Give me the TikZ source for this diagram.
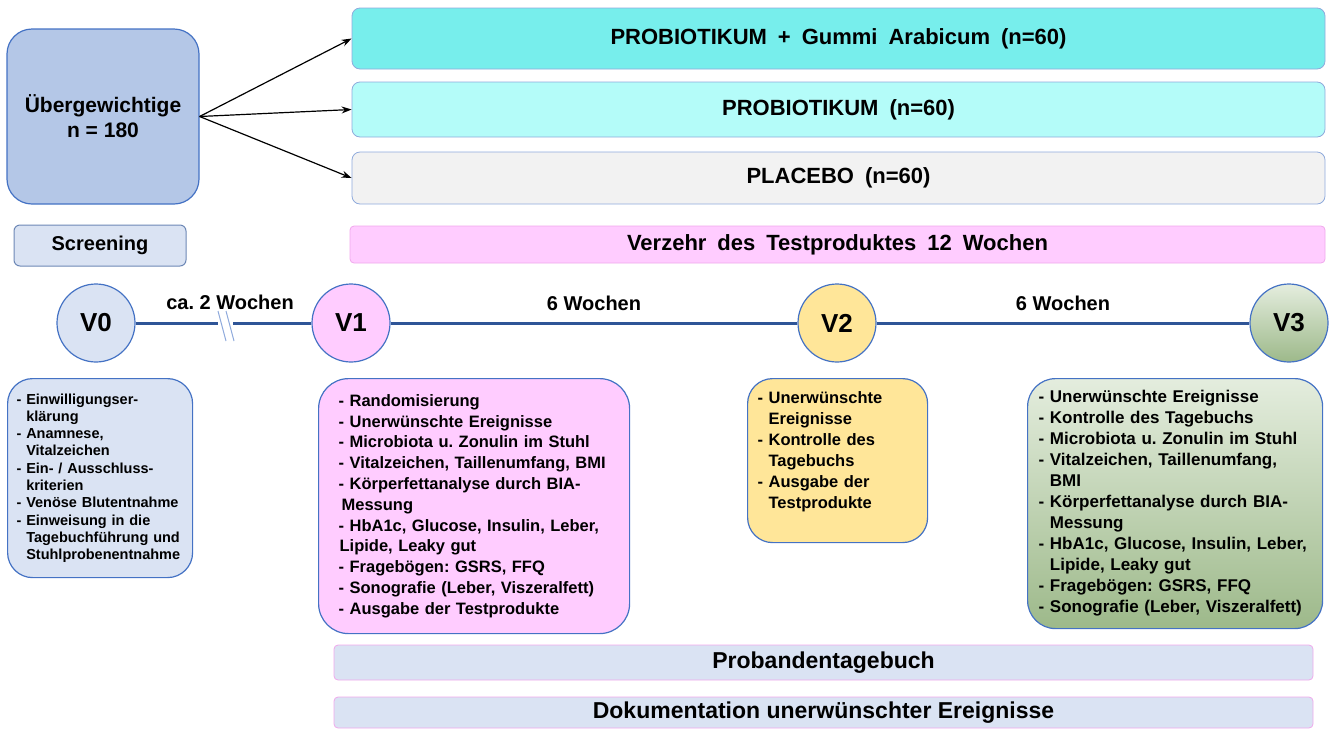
\documentclass[tikz,border=0pt]{standalone}
\usepackage{fontspec}
\setmainfont{Liberation Sans}
\usetikzlibrary{arrows.meta}

\definecolor{boxblue}{HTML}{B4C7E7}
\definecolor{paleblue}{HTML}{DAE3F3}
\definecolor{edgeblue}{HTML}{4472C4}
\definecolor{lineblue}{HTML}{2F5597}
\definecolor{greyblue}{HTML}{8FAADC}
\definecolor{cyanA}{HTML}{77EEEC}
\definecolor{cyanB}{HTML}{B4FCF9}
\definecolor{greyC}{HTML}{F2F2F2}
\definecolor{pinkfill}{HTML}{FFCCFF}
\definecolor{pinkedge}{HTML}{F0A8EC}
\definecolor{yellowfill}{HTML}{FFE699}
\definecolor{greentop}{HTML}{E4EDDE}
\definecolor{greenbot}{HTML}{9DB98A}

\newcommand{\fs}[2]{\fontsize{#1}{#2}\selectfont\bfseries\frenchspacing}
\newcommand{\widesp}{\spaceskip=0.5em plus 0.1em\relax}
\newcommand{\ind}{\phantom{- }}

\begin{document}
\begin{tikzpicture}[x=1pt,y=-1pt,
  grp/.style={draw=greyblue,line width=0.8pt,rounded corners=8pt,minimum width=973pt,font=\fs{22}{26}\widesp},
  visit/.style={circle,draw=edgeblue,line width=1.2pt,minimum size=78pt,inner sep=0pt,font=\fs{26}{30}},
  todo/.style={draw=edgeblue,line width=1.2pt,rounded corners=25pt,anchor=north west,align=left,inner ysep=0pt},
  bar/.style={draw=pinkedge,line width=0.8pt,rounded corners=4pt,minimum width=979pt,fill=paleblue,font=\fs{23}{27}},
  tl/.style={lineblue,line width=3pt},
  wk/.style={midway,yshift=20pt,text=black,font=\fs{20}{24}},
  >={Stealth[length=10pt,width=7pt]}]
\useasboundingbox (0,0) rectangle (1330,729);

% randomisation
\node[draw=edgeblue,fill=boxblue,line width=1.2pt,rounded corners=25pt,minimum width=192pt,minimum height=175pt,align=center,font=\fs{21}{25}] (ueber) at (103,116.5) {Übergewichtige\\n = 180};
\node[draw=lineblue!70,fill=paleblue,line width=1pt,rounded corners=6pt,minimum width=172pt,minimum height=41pt,font=\fs{20}{24}] (screen) at (100,245.5) {Screening};

\node[grp,fill=cyanA,minimum height=61pt] (grpA) at (838.5,38.5) {PROBIOTIKUM + Gummi Arabicum (n=60)};
\node[grp,fill=cyanB,minimum height=55pt] (grpB) at (838.5,109.5) {PROBIOTIKUM (n=60)};
\node[grp,fill=greyC,minimum height=52pt] (grpC) at (838.5,178) {PLACEBO (n=60)};
\node[grp,draw=pinkedge,fill=pinkfill,minimum width=975pt,minimum height=37pt,rounded corners=4pt] (intake) at (837.5,244.5) {Verzehr des Testproduktes 12 Wochen};

\draw[->,line width=1.2pt] (ueber.east) -- (grpA.west);
\draw[->,line width=1.2pt] (ueber.east) -- (grpB.west);
\draw[->,line width=1.2pt] (ueber.east) -- (grpC.west);

% timeline
\node[visit,fill=paleblue] (V0) at (96,323) {V0};
\node[visit,fill=pinkfill] (V1) at (351,323) {V1};
\node[visit,fill=yellowfill] (V2) at (837,323) {V2};
\node[visit,top color=greentop,bottom color=greenbot] (V3) at (1289,323) {V3};

\coordinate (cutL) at (218,323);
\coordinate (cutR) at (233,323);
\draw[tl] (V0) -- (cutL);
\draw[tl] (cutR) -- (V1);
\draw[greyblue,line width=1pt] (218,311) -- (226,341) (226,311) -- (234,341);
\node[font=\fs{20}{24}] (gapwk) at (230,302) {ca. 2 Wochen};
\draw[tl] (V1) -- node[wk] (wkA) {6 Wochen} (V2);
\draw[tl] (V2) -- node[wk] (wkB) {6 Wochen} (V3);

% visit contents
\node[todo,fill=paleblue,minimum height=199pt,inner xsep=9pt,text width=167pt,font=\fs{14.5}{17.3}] (todoV0) at (7,378) {%
- Einwilligungser-\\\ind klärung\\
- Anamnese,\\\ind Vitalzeichen\\
- Ein- / Ausschluss-\\\ind kriterien\\
- Venöse Blutentnahme\\
- Einweisung in die\\\ind Tagebuchführung und\\\ind Stuhlprobenentnahme};

\node[todo,fill=pinkfill,rounded corners=30pt,minimum height=255pt,inner xsep=20pt,text width=271pt,font=\fs{16.5}{20.8}] (todoV1) at (318,378) {%
- Randomisierung\\
- Unerwünschte Ereignisse\\
- Microbiota u. Zonulin im Stuhl\\
- Vitalzeichen, Taillenumfang, BMI\\
- Körperfettanalyse durch BIA-\\\hspace*{3pt}Messung\\
- HbA1c, Glucose, Insulin, Leber,\\\hspace*{1pt}Lipide, Leaky gut\\
- Fragebögen: GSRS, FFQ\\
- Sonografie (Leber, Viszeralfett)\\
- Ausgabe der Testprodukte};

\node[todo,fill=yellowfill,minimum height=164pt,inner xsep=10pt,text width=160pt,font=\fs{16.5}{21}] (todoV2) at (747,378) {%
- Unerwünschte\\\ind Ereignisse\\
- Kontrolle des\\\ind Tagebuchs\\
- Ausgabe der\\\ind Testprodukte\\~};

\node[todo,top color=greentop,bottom color=greenbot,rounded corners=28pt,minimum height=250pt,inner xsep=11pt,text width=273pt,font=\fs{17}{21}] (todoV3) at (1027,378) {%
- Unerwünschte Ereignisse\\
- Kontrolle des Tagebuchs\\
- Microbiota u. Zonulin im Stuhl\\
- Vitalzeichen, Taillenumfang,\\\ind BMI\\
- Körperfettanalyse durch BIA-\\\ind Messung\\
- HbA1c, Glucose, Insulin, Leber,\\\ind Lipide, Leaky gut\\
- Fragebögen: GSRS, FFQ\\
- Sonografie (Leber, Viszeralfett)};

% documentation bars
\node[bar,minimum height=35pt] (diary) at (823.5,662.5) {Probandentagebuch};
\node[bar,minimum height=31pt] (aelog) at (823.5,712.5) {Dokumentation unerwünschter Ereignisse};
\end{tikzpicture}
\end{document}
